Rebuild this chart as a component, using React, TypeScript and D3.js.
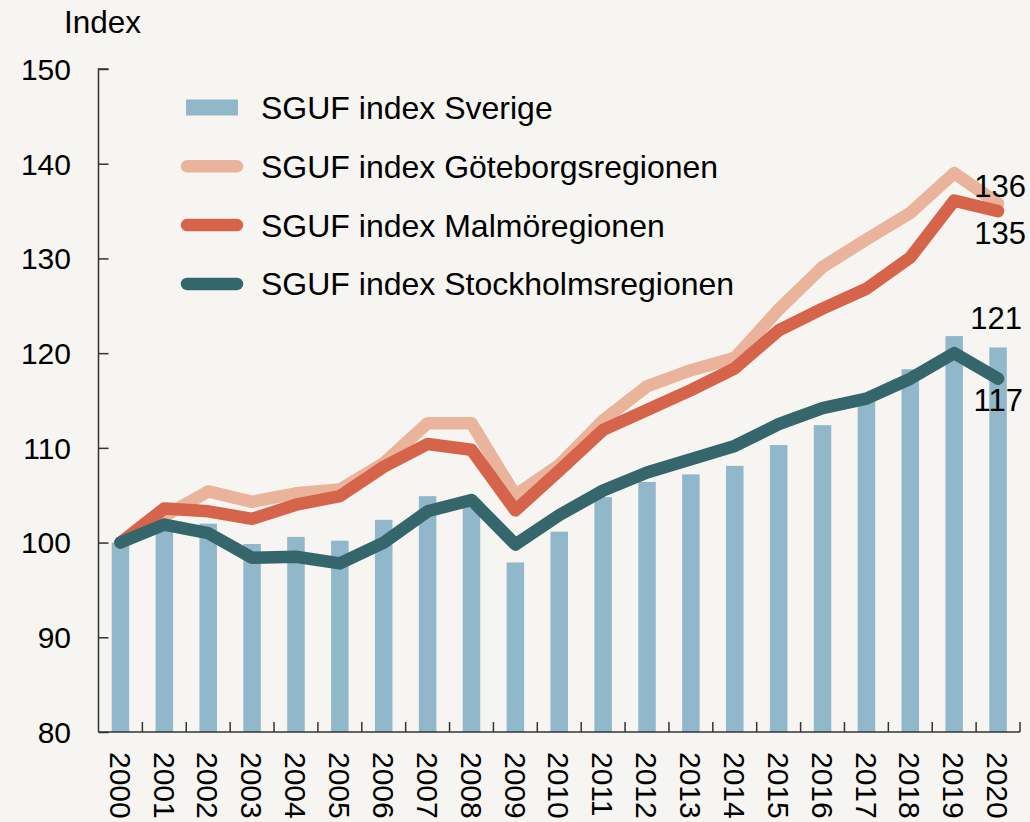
import React, { useEffect, useRef } from 'react';
import * as d3 from 'd3';

const years = ['2000','2001','2002','2003','2004','2005','2006','2007','2008','2009','2010','2011','2012','2013','2014','2015','2016','2017','2018','2019','2020'];
const sverige = [100, 101.4, 102.0, 99.85, 100.6, 100.2, 102.4, 104.9, 104.6, 97.9, 101.15, 104.8, 106.4, 107.2, 108.1, 110.3, 112.4, 115.0, 118.3, 121.8, 120.6];
const goteborg = [100, 102.8, 105.4, 104.3, 105.2, 105.6, 108.4, 112.6, 112.6, 105.0, 108.2, 112.9, 116.5, 118.2, 119.5, 124.6, 129.1, 132.0, 134.8, 139.0, 135.8];
const malmo = [100, 103.6, 103.3, 102.5, 104.0, 104.9, 108.0, 110.4, 109.8, 103.4, 107.6, 111.9, 114.0, 116.1, 118.4, 122.4, 124.7, 126.8, 130.1, 136.1, 135.0];
const stockholm = [100, 101.9, 101.0, 98.4, 98.5, 97.8, 100.0, 103.3, 104.5, 99.8, 102.9, 105.5, 107.4, 108.8, 110.2, 112.5, 114.2, 115.2, 117.3, 120.0, 117.3];
const yTicks = [80, 90, 100, 110, 120, 130, 140, 150];
const legendLabels = ['SGUF index Sverige', 'SGUF index Göteborgsregionen', 'SGUF index Malmöregionen', 'SGUF index Stockholmsregionen'];
const endLabels = ['136', '135', '121', '117'];

const colors = {
  bg: '#f6f5f1',
  bar: '#90b8ca',
  gbg: '#eab39c',
  malmo: '#d6644a',
  sthlm: '#35666b',
  axis: '#333333',
};

const W = 1030;
const H = 822;

export default function App() {
  const ref = useRef<SVGSVGElement>(null);

  useEffect(() => {
    const svg = d3.select(ref.current);
    svg.selectAll('*').remove();
    const font = '"Liberation Sans", Arial, sans-serif';

    svg.append('rect').attr('width', W).attr('height', H).attr('fill', colors.bg);

    const xb = d3.scaleBand().domain(years).range([98.5, 1020]);
    const y = d3.scaleLinear().domain([80, 150]).range([732, 69]);
    const cx = (yr: string) => (xb(yr) as number) + xb.bandwidth() / 2;
    const barW = 17.5;

    // bars
    svg.append('g').selectAll('rect').data(sverige).enter().append('rect')
      .attr('x', (d, i) => cx(years[i]) - barW / 2)
      .attr('width', barW)
      .attr('y', (d) => y(d))
      .attr('height', (d) => y(80) - y(d))
      .attr('fill', colors.bar);

    // lines
    const line = d3.line<number>().x((d, i) => cx(years[i])).y((d) => y(d));
    const series = [
      { data: goteborg, color: colors.gbg },
      { data: malmo, color: colors.malmo },
      { data: stockholm, color: colors.sthlm },
    ];
    series.forEach((s) => {
      svg.append('path')
        .attr('d', line(s.data))
        .attr('fill', 'none')
        .attr('stroke', s.color)
        .attr('stroke-width', 12.5)
        .attr('stroke-linecap', 'round')
        .attr('stroke-linejoin', 'round');
    });

    // y axis
    const yAxis = d3.axisRight(y).tickValues(yTicks).tickSize(10).tickFormat(() => '');
    const gy = svg.append('g').attr('transform', 'translate(98.5,0)').call(yAxis);
    gy.select('.domain').attr('d', `M10,${y(150)}H0V${y(80)}`);
    gy.selectAll('line').attr('stroke', colors.axis).attr('stroke-width', 1.5);
    gy.select('.domain').attr('stroke', colors.axis).attr('stroke-width', 1.5);

    svg.append('g').selectAll('text').data(yTicks).enter().append('text')
      .attr('x', 71)
      .attr('y', (d) => y(d))
      .attr('dy', '0.36em')
      .attr('text-anchor', 'end')
      .attr('font-family', font)
      .attr('font-size', 30)
      .attr('fill', '#000')
      .text((d) => d);

    // x axis
    const gx = svg.append('g');
    gx.append('line')
      .attr('x1', 98.5).attr('x2', 1020)
      .attr('y1', y(80)).attr('y2', y(80))
      .attr('stroke', colors.axis).attr('stroke-width', 1.5);
    const bounds = years.map((yr) => (xb(yr) as number) + xb.bandwidth());
    gx.selectAll('line.tick').data(bounds).enter().append('line')
      .attr('class', 'tick')
      .attr('x1', (d) => d).attr('x2', (d) => d)
      .attr('y1', y(80) - 10).attr('y2', y(80))
      .attr('stroke', colors.axis).attr('stroke-width', 1.5);
    gx.selectAll('text').data(years).enter().append('text')
      .attr('transform', (d) => `translate(${cx(d)},752) rotate(90)`)
      .attr('dy', '0.36em')
      .attr('font-family', font)
      .attr('font-size', 30)
      .attr('fill', '#000')
      .text((d) => d);

    // axis title
    svg.append('text')
      .attr('x', 64).attr('y', 33)
      .attr('font-family', font).attr('font-size', 31.5).attr('fill', '#000')
      .text('Index');

    // legend
    const lg = svg.append('g');
    legendLabels.forEach((lab, i) => {
      const ly = 107.5 + i * 58.8;
      if (i === 0) {
        lg.append('rect').attr('x', 186).attr('y', ly - 8).attr('width', 52).attr('height', 16).attr('fill', colors.bar);
      } else {
        const c = [colors.gbg, colors.malmo, colors.sthlm][i - 1];
        lg.append('line').attr('x1', 187).attr('x2', 237).attr('y1', ly).attr('y2', ly)
          .attr('stroke', c).attr('stroke-width', 12.5).attr('stroke-linecap', 'round');
      }
      lg.append('text')
        .attr('x', 261).attr('y', ly).attr('dy', '0.36em')
        .attr('font-family', font).attr('font-size', 32).attr('fill', '#000')
        .text(lab);
    });

    // end labels
    const labelPos = [
      { x: 1026, y: 186 },
      { x: 1026, y: 232.5 },
      { x: 1022, y: 318 },
      { x: 1023, y: 400 },
    ];
    endLabels.forEach((t, i) => {
      svg.append('text')
        .attr('x', labelPos[i].x).attr('y', labelPos[i].y).attr('dy', '0.36em')
        .attr('text-anchor', 'end')
        .attr('font-family', font).attr('font-size', 31).attr('fill', '#000')
        .text(t);
    });
  }, []);

  return (
    <svg ref={ref} width={W} height={H} style={{ position: 'absolute', left: 0, top: 0 }} />
  );
}
